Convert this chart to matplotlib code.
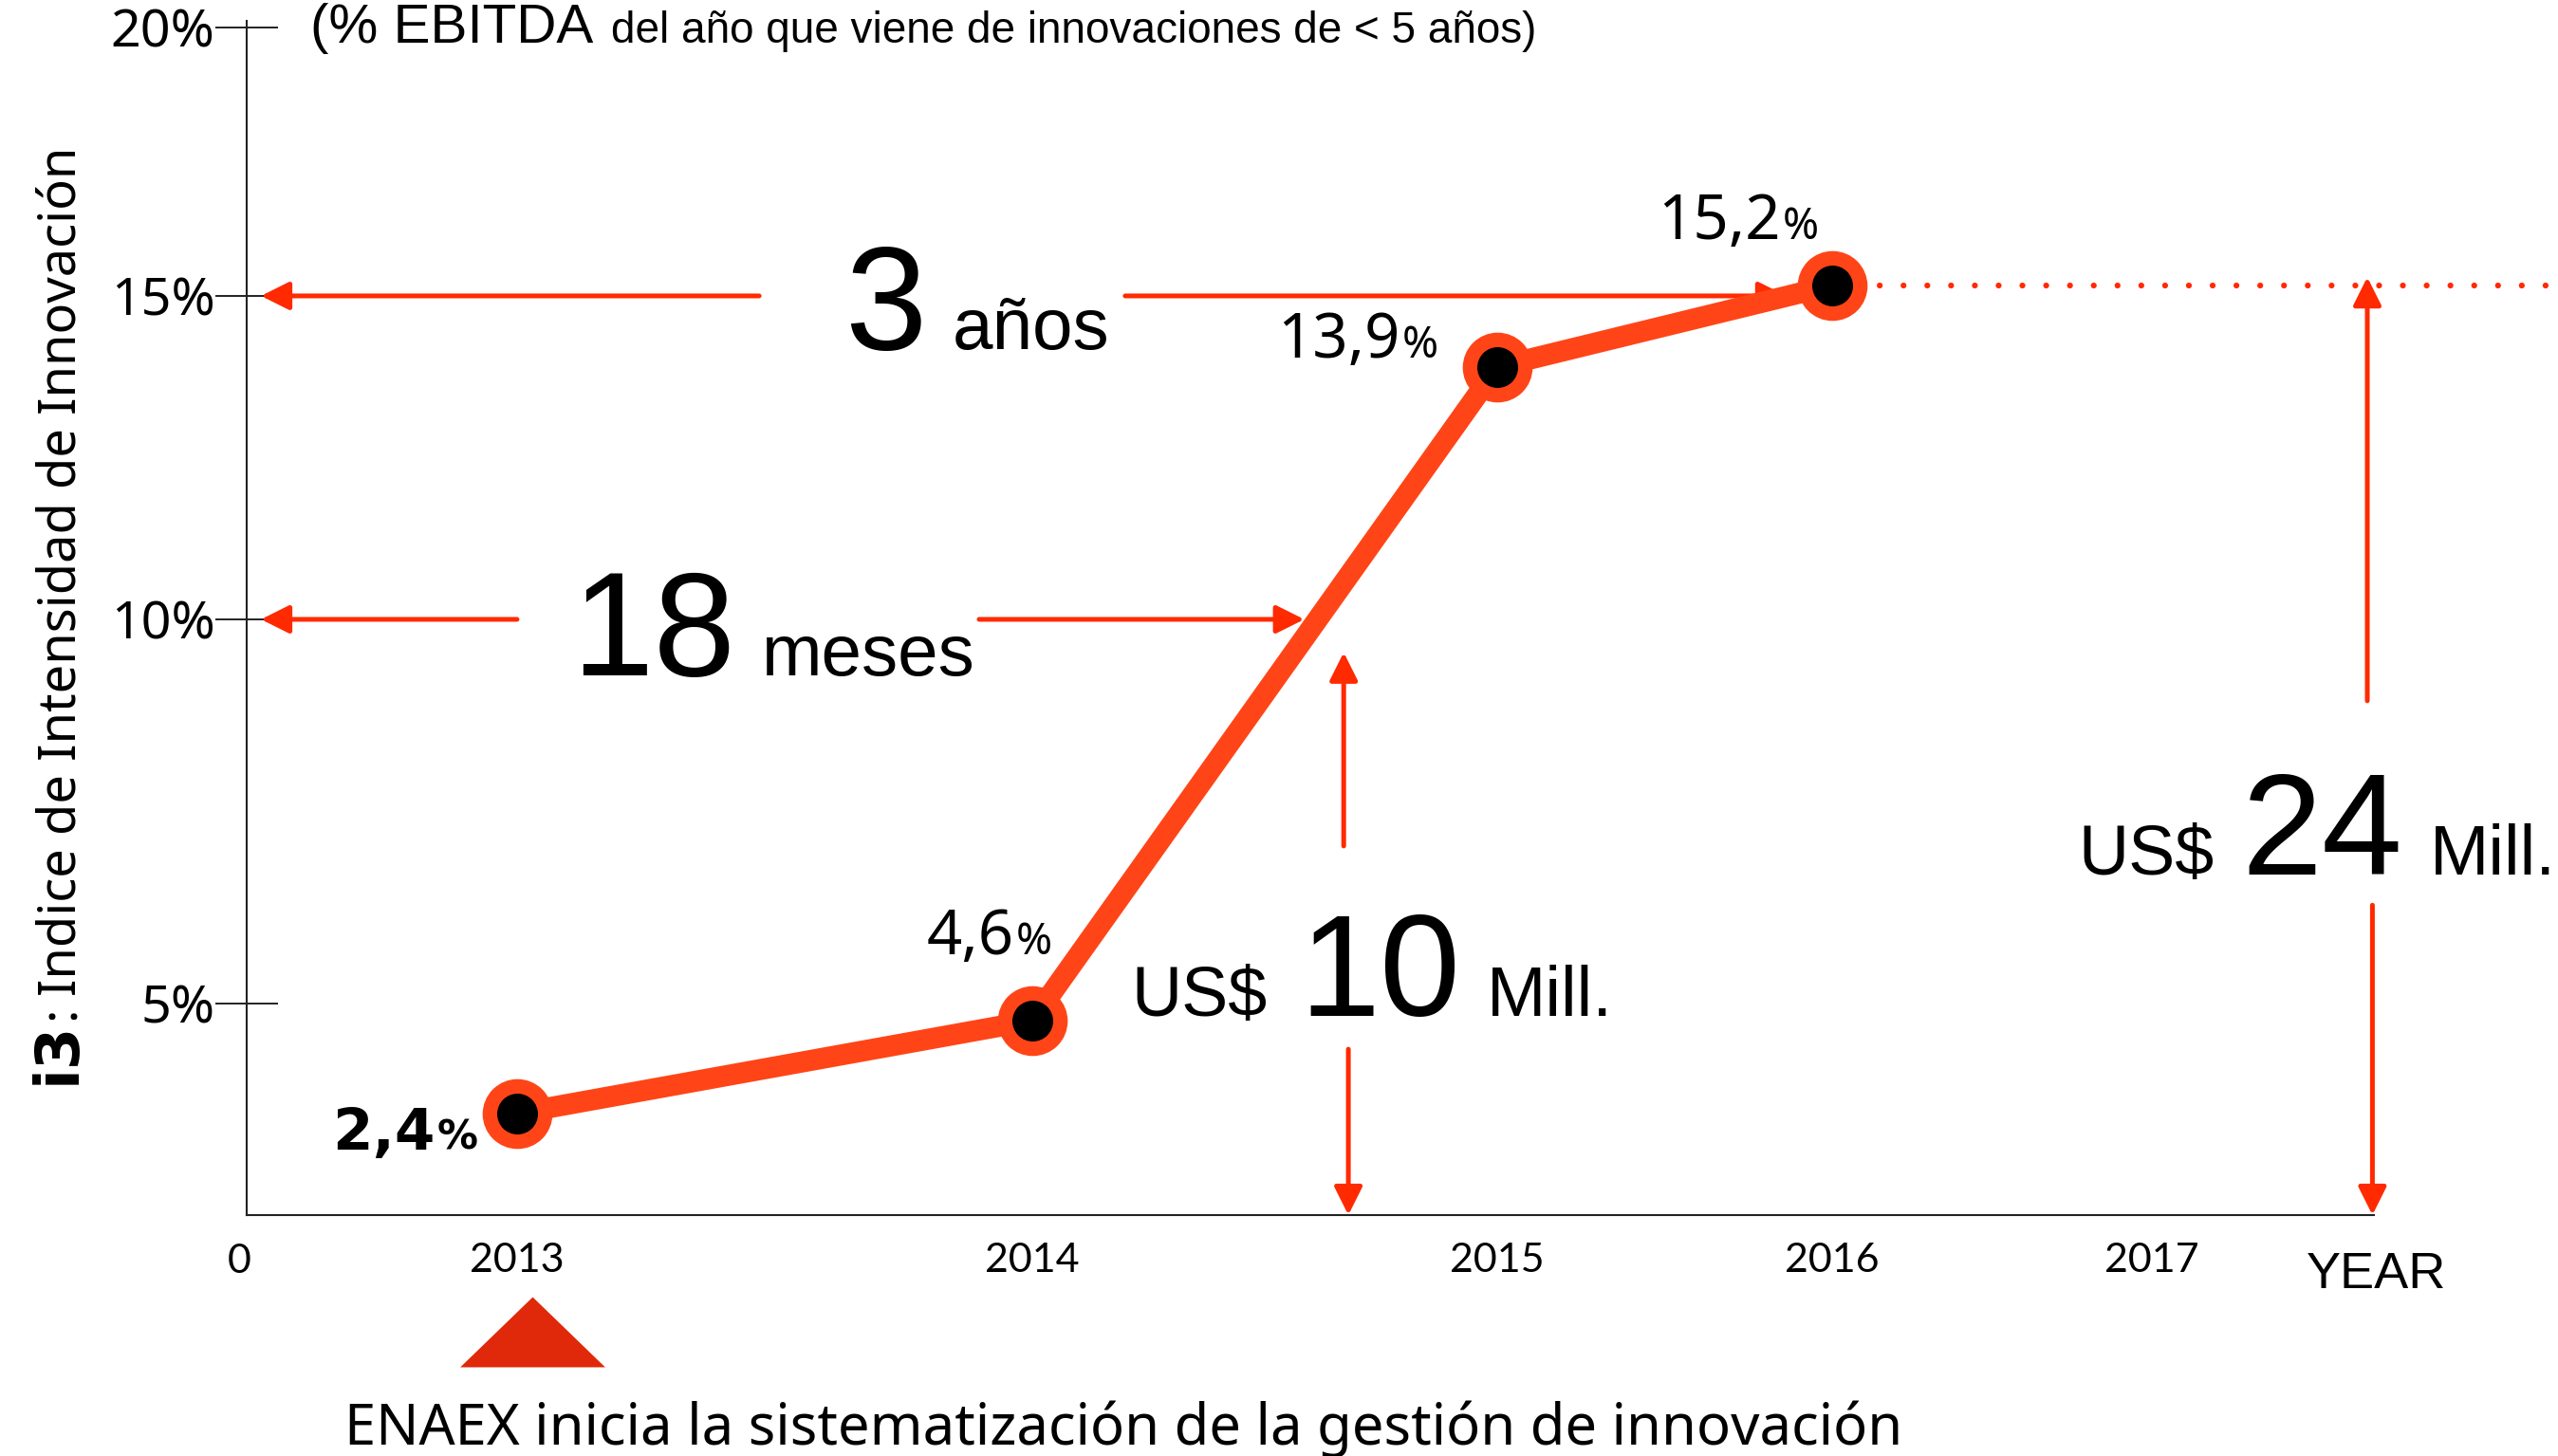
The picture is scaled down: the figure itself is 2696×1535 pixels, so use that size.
"""
Indice de Intensidad de Innovación (i3) - ENAEX
Recreación de la lámina con matplotlib
"""
import numpy as np
import matplotlib
matplotlib.use('Agg')
import matplotlib.pyplot as plt
from matplotlib import font_manager
from matplotlib.ticker import NullLocator
from matplotlib.transforms import IdentityTransform, blended_transform_factory

# datos
years = [2013, 2014, 2015, 2016]
i3 = [2.4, 4.6, 13.9, 15.2]
i3_labels = ['2,4', '4,6', '13,9', '15,2']
x_ticks = [2013, 2014, 2015, 2016, 2017]
x_tick_labels = ['2013', '2014', '2015', '2016', '2017']
y_ticks = [5, 10, 15, 20]
y_tick_labels = ['5%', '10%', '15%', '20%']

# la lámina original tiene ejes con espaciado irregular (dibujado a mano),
# se reproduce con una escala por tramos
x_knots = [2011, 2012, 2013, 2014, 2015, 2016, 2017, 2018, 2019]
x_knot_pos = [-541, 2, 545, 1088, 1578, 1931, 2268, 2605, 2942]
y_knots = [-5, 0, 5, 10, 15, 20, 25]
y_knot_pos = [-223, 0, 223, 628, 969, 1252, 1535]


def fx(v):
    return np.interp(v, x_knots, x_knot_pos)


def fx_inv(p):
    return np.interp(p, x_knot_pos, x_knots)


def fy(v):
    return np.interp(v, y_knots, y_knot_pos)


def fy_inv(p):
    return np.interp(p, y_knot_pos, y_knots)


# fuentes
available = {f.name for f in font_manager.fontManager.ttflist}
HELV = 'Liberation Sans' if 'Liberation Sans' in available else 'DejaVu Sans'
HUM = 'Noto Sans' if 'Noto Sans' in available else 'DejaVu Sans'
GILL = 'Lato' if 'Lato' in available else HUM
BOLD = 'DejaVu Sans'

ORANGE = '#ff4517'
RED = '#ff2a00'
TRI = '#e0290a'

fig = plt.figure(figsize=(26.96, 15.35), dpi=100)
ax = fig.add_axes([0.0964, 0.1655, 0.8316, 0.8202])
ax.set_xscale('function', functions=(fx, fx_inv))
ax.set_yscale('function', functions=(fy, fy_inv))
ax.set_xlim(2012.4751, 2017.6944)
ax.set_ylim(0, 20.124)

for side in ['top', 'right']:
    ax.spines[side].set_visible(False)
for side in ['left', 'bottom']:
    ax.spines[side].set_linewidth(1.5)
    ax.spines[side].set_color('#222222')

ax.set_yticks(y_ticks, y_tick_labels, fontfamily=HUM, fontsize=40)
ax.set_xticks(x_ticks, x_tick_labels, fontfamily=GILL, fontsize=31)
ax.xaxis.set_minor_locator(NullLocator())
ax.yaxis.set_minor_locator(NullLocator())
ax.tick_params(axis='y', direction='inout', length=48, width=1.4, pad=0, color='#222222')
ax.tick_params(axis='x', length=0, pad=21)

# línea principal
ax.plot(years, i3, color=ORANGE, lw=16, marker='o', ms=42, mfc='black',
        mec=ORANGE, mew=11, zorder=5, clip_on=False)

# línea punteada desde 2016 hacia la derecha
ax.plot([years[-1], 2019], [i3[-1], i3[-1]], color=RED, lw=4.5,
        linestyle=(0, (0.01, 4)), dash_capstyle='round', zorder=2, clip_on=False)

# triángulo bajo 2013
tri = [(-1, -0.484), (1, -0.484), (0, 0.484)]
blend = blended_transform_factory(ax.transData, ax.transAxes)
ax.plot([2013.03], [-0.0977], transform=blend, marker=tri, ms=110, mew=0,
        color=TRI, linestyle='none', clip_on=False)


def arrow(tail, tip):
    ax.annotate('', xy=tip, xytext=tail, xycoords='data', textcoords='data',
                arrowprops=dict(arrowstyle='-|>', color=RED, lw=3.6, mutation_scale=45,
                                shrinkA=0, shrinkB=0),
                annotation_clip=False)


# cruce de la curva con el 10%
xw = fx(np.array(years, dtype=float))
yw = fy(np.array(i3))
t = (fy(10) - yw[1]) / (yw[2] - yw[1])
x_cross = float(fx_inv(xw[1] + t * (xw[2] - xw[1]) - 14))

x_left = 2012.503
arrow((2013.47, 15), (x_left, 15))
arrow((2014.2, 15), (2015.864, 15))
arrow((2013.0, 10), (x_left, 10))
arrow((2013.897, 10), (x_cross, 10))
arrow((2014.67, 7.05), (2014.67, 9.57))
arrow((2014.68, 3.92), (2014.68, 0))
arrow((2017.674, 8.94), (2017.674, 15.35))
arrow((2017.69, 6.28), (2017.69, 0))

renderer = fig.canvas.get_renderer()


def rich_text(x, y, parts, rotation=0, align='left'):
    """parts: (texto, tamaño, familia, peso, separación en px)"""
    texts = []
    x0, y0 = x, y
    for s, size, family, weight, gap in parts:
        if rotation == 90:
            y0 += gap
        else:
            x0 += gap
        tt = fig.text(x0, y0, s, transform=IdentityTransform(), fontsize=size,
                      fontfamily=family, fontweight=weight, rotation=rotation,
                      rotation_mode='anchor', ha='left', va='baseline')
        bb = tt.get_window_extent(renderer)
        if rotation == 90:
            y0 = bb.y1
        else:
            x0 = bb.x1
        texts.append(tt)
    if align == 'right':
        shift = x0 - x
        for tt in texts:
            px, py = tt.get_position()
            tt.set_position((px - shift, py))
    return texts


def data_px(x, y):
    return ax.transData.transform((x, y))


# etiquetas de los puntos
label_off = [(-41, -38), (21, 70), (-62, 10), (-14, 49)]
label_font = [(BOLD, 'bold', 44, 31), (HUM, 'normal', 47, 33),
              (HUM, 'normal', 47, 33), (HUM, 'normal', 47, 33)]
for yr, v, lab, (dx, dy), (fam, w, s1, s2) in zip(years, i3, i3_labels, label_off, label_font):
    px, py = data_px(yr, v)
    rich_text(px + dx, py + dy, [(lab, s1, fam, w, 0), ('%', s2, fam, w, 2)], align='right')

# anotaciones grandes
px, py = data_px(2013.635, 14.18)
rich_text(px, py, [('3', 112, HELV, 'normal', 0), ('años', 55, HELV, 'normal', 28)])
px, py = data_px(2013.105, 9.27)
rich_text(px, py, [('18', 112, HELV, 'normal', 0), ('meses', 55, HELV, 'normal', 28)])
px, py = data_px(2014.214, 4.71)
rich_text(px, py, [('US$', 53, HELV, 'normal', 0), ('10', 110, HELV, 'normal', 33),
                   ('Mill.', 54, HELV, 'normal', 28)])
px, py = data_px(2016.77, 6.68)
rich_text(px, py, [('US$', 53, HELV, 'normal', 0), ('24', 110, HELV, 'normal', 29),
                   ('Mill.', 54, HELV, 'normal', 28)])

# título
rich_text(327, 1490, [('(% EBITDA', 42, HELV, 'normal', 0),
                      ('del año que viene de innovaciones de < 5 años)', 33, HELV, 'normal', 19)])

# etiqueta eje Y
rich_text(79, 392, [('i3', 46, BOLD, 'bold', 0), (':', 39, HUM, 'normal', 2),
                    ('Indice de Intensidad de Innovación', 39, HUM, 'normal', 10)], rotation=90)

# origen y título eje X
fig.text(252, 193, '0', transform=IdentityTransform(), fontsize=31, fontfamily=GILL,
         ha='center', va='baseline')
fig.text(2505, 177, 'YEAR', transform=IdentityTransform(), fontsize=39, fontfamily=HELV,
         ha='center', va='baseline')

# texto inferior
fig.text(363, 12, 'ENAEX inicia la sistematización de la gestión de innovación',
         transform=IdentityTransform(), fontsize=43, fontfamily=HUM, ha='left', va='baseline')

fig.savefig('out.png', dpi=100)
